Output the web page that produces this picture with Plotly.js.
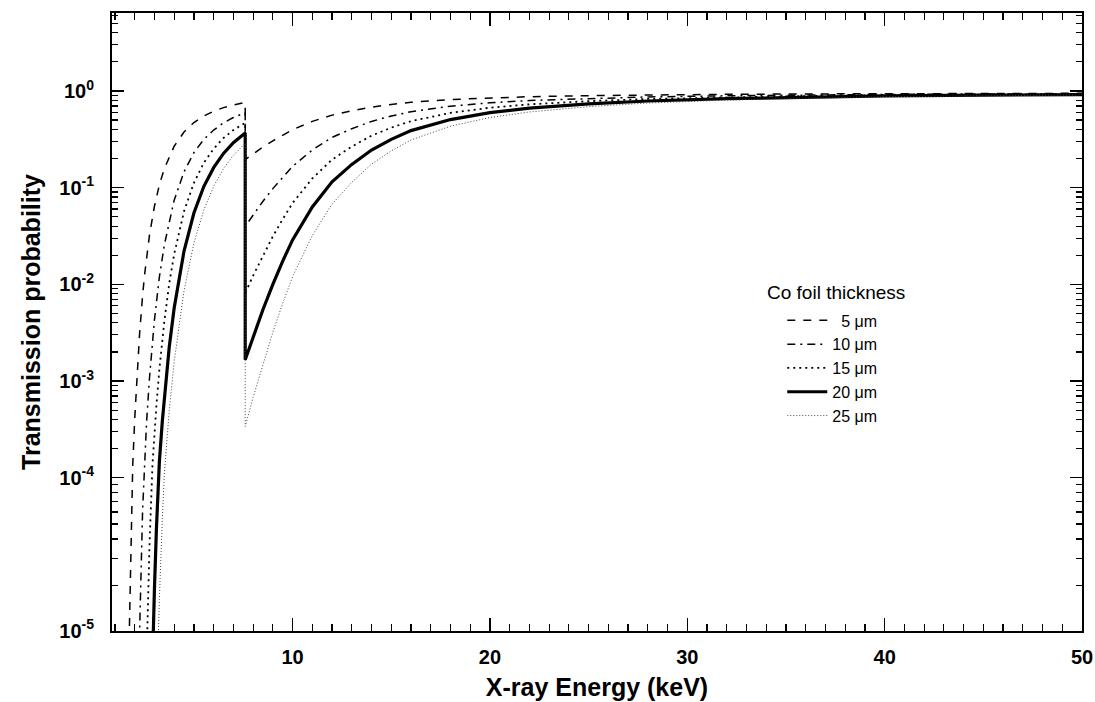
<!DOCTYPE html>
<html>
<head>
<meta charset="utf-8">
<script src="https://cdn.plot.ly/plotly-3.0.1.min.js"></script>
<style>html,body{margin:0;padding:0;background:#fff;}#chart{width:1095px;height:702px;}</style>
</head>
<body>
<div id="chart"></div>
<script>
// Energies (keV) and transmission values
// Below the Co K-edge (low-energy branch)
const e5Low  = [1.7,1.8,1.9,2.0,2.1,2.25,2.4,2.5,2.75,3.0,3.25,3.5,4.0,4.5,5.0,5.5,6.0,6.5,7.0,7.6];
const t5Low  = [1.37e-6,1.89e-5,1.33e-4,4.03e-4,1.02e-3,3.13e-3,7.67e-3,0.01245,0.0324,0.0642,0.107,0.157,0.268,0.376,0.471,0.551,0.617,0.672,0.716,0.759];
const e10Low = [2.1,2.2,2.25,2.4,2.5,2.6,2.75,2.9,3.0,3.25,3.5,4.0,4.5,5.0,5.5,6.0,6.5,7.0,7.6];
const t10Low = [7.4e-8,9.0e-7,2.61e-6,4.55e-5,1.60e-4,3.72e-4,1.08e-3,2.60e-3,4.27e-3,0.0119,0.0254,0.0741,0.146,0.230,0.315,0.394,0.468,0.531,0.596];
const e15Low = [2.5,2.6,2.75,2.9,3.0,3.1,3.25,3.4,3.5,3.75,4.0,4.5,5.0,5.5,6.0,6.5,7.0,7.6];
const t15Low = [2.07e-7,1.55e-6,2.0e-5,1.35e-4,2.83e-4,5.56e-4,1.32e-3,2.72e-3,4.12e-3,0.0102,0.0205,0.0569,0.112,0.180,0.252,0.326,0.394,0.468];
const e20Low = [2.8,2.9,3.0,3.1,3.25,3.4,3.5,3.75,4.0,4.5,5.0,5.5,6.0,6.5,7.0,7.6];
const t20Low = [2.0e-7,1.45e-6,7.0e-6,2.93e-5,1.46e-4,3.85e-4,6.68e-4,2.24e-3,5.69e-3,0.0221,0.0546,0.1026,0.161,0.226,0.292,0.367];
const e25Low = [3.0,3.1,3.25,3.4,3.5,3.75,4.0,4.5,5.0,5.5,6.0,6.5,7.0,7.6];
const t25Low = [9.3e-8,5.58e-7,5.52e-6,3.78e-5,1.08e-4,4.93e-4,1.58e-3,8.61e-3,0.0266,0.0586,0.1029,0.1576,0.216,0.288];

// Above the Co K-edge (high-energy branch)
const eHigh   = [7.6,8,8.5,9,9.5,10,11,12,13,14,15,16,18,20,22,25,28,32,36,40,45,50];
const t5High  = [0.195,0.224,0.263,0.305,0.351,0.398,0.484,0.562,0.624,0.680,0.724,0.763,0.815,0.849,0.872,0.894,0.910,0.923,0.931,0.938,0.942,0.945];
const t10High = [0.0398,0.0525,0.0724,0.0977,0.129,0.166,0.245,0.331,0.407,0.484,0.550,0.610,0.695,0.755,0.796,0.838,0.867,0.891,0.908,0.920,0.929,0.935];
const t15High = [8.13e-3,0.0123,0.01995,0.0313,0.0473,0.0692,0.1245,0.195,0.266,0.345,0.417,0.487,0.593,0.671,0.727,0.784,0.826,0.861,0.885,0.904,0.916,0.926];
const t20High = [1.66e-3,2.88e-3,5.50e-3,0.0100,0.0174,0.0288,0.0631,0.1148,0.174,0.245,0.316,0.389,0.506,0.597,0.664,0.735,0.787,0.832,0.863,0.887,0.904,0.916];
const t25High = [3.39e-4,6.76e-4,1.51e-3,3.20e-3,6.38e-3,0.0120,0.0320,0.0676,0.1135,0.1748,0.240,0.311,0.432,0.531,0.606,0.688,0.750,0.804,0.841,0.871,0.891,0.907];

const seriesNames = ['\u00a0\u00a05 \u03bcm','10 \u03bcm','15 \u03bcm','20 \u03bcm','25 \u03bcm'];

// Axis tick labels
const xTickVals = [10,20,30,40,50];
const xTickText = ['<b>10</b>','<b>20</b>','<b>30</b>','<b>40</b>','<b>50</b>'];
const xMidTicks = [5,15,25,35,45];
const yTickVals = [1,0.1,0.01,1e-3,1e-4,2.62e-6];
const yTickText = ['<b>10<sup>0</sup></b>','<b>10<sup>-1</sup></b>','<b>10<sup>-2</sup></b>','<b>10<sup>-3</sup></b>','<b>10<sup>-4</sup></b>','<b>10<sup>-5</sup></b>'];

function minorY(){
  const v=[];
  for (const d of [1e-4,1e-3,1e-2,1e-1,1]) for (let k=2;k<=9;k++){ const m=k*d; if(m<6.3) v.push(m); }
  // compressed bottom decade of the original drawing
  v.push(8.455e-5,7.01e-5,5.67e-5,4.43e-5,3.32e-5,2.33e-5,1.47e-5,7.71e-6);
  return v;
}

const styles = [
  {dash:'8px,8px', width:1.5, color:'#000'},
  {dash:'8px,5px,2px,5px', width:1.5, color:'#000'},
  {dash:'2px,4px', width:1.8, color:'#000'},
  {dash:'solid', width:3.2, color:'#000'},
  {dash:'1px,2px', width:1, color:'#444'}
];
const lows = [[e5Low,t5Low],[e10Low,t10Low],[e15Low,t15Low],[e20Low,t20Low],[e25Low,t25Low]];
const highs = [t5High,t10High,t15High,t20High,t25High];

const traces = lows.map((lw,i)=>({
  x: lw[0].concat(eHigh),
  y: lw[1].concat(highs[i]),
  type:'scatter', mode:'lines', name: seriesNames[i],
  line: Object.assign({}, styles[i]),
  hoverinfo:'skip'
}));

const font = 'Liberation Sans, Arial, Helvetica, sans-serif';
const layout = {
  width:1095, height:702,
  margin:{l:112, r:13, t:13, b:71},
  paper_bgcolor:'#fff', plot_bgcolor:'#fff',
  font:{family:font, color:'#000'},
  showlegend:true,
  legend:{x:0.691, y:0.530, xanchor:'left', yanchor:'top', bgcolor:'rgba(0,0,0,0)',
          font:{size:16, family:font, color:'#000'}, itemwidth:40, tracegroupgap:0},
  xaxis:{
    range:[0.85,50], showgrid:false, zeroline:false,
    showline:true, linecolor:'#000', linewidth:2, mirror:'ticks',
    ticks:'inside', ticklen:13, tickwidth:1.5, tickcolor:'#000',
    tickmode:'array', tickvals:xTickVals, ticktext:xTickText,
    tickfont:{size:20, family:font, color:'#000'}, ticklabelstandoff:7,
    minor:{dtick:1, tick0:0, ticks:'inside', ticklen:7, tickwidth:1.2, tickcolor:'#000', showgrid:false},
    title:{text:'<b>X-ray Energy (keV)</b>', font:{size:25, family:font}, standoff:11}
  },
  xaxis2:{
    overlaying:'x', anchor:'y', side:'bottom', range:[0.85,50],
    showgrid:false, zeroline:false, showline:true, linecolor:'#000', linewidth:2, mirror:'ticks',
    ticks:'inside', ticklen:10, tickwidth:1.3, tickcolor:'#000',
    tickmode:'array', tickvals:xMidTicks, showticklabels:false
  },
  yaxis:{
    type:'log', range:[-5.585,0.806], showgrid:false, zeroline:false,
    showline:true, linecolor:'#000', linewidth:2, mirror:'ticks',
    ticks:'inside', ticklen:12, tickwidth:1.5, tickcolor:'#000',
    tickmode:'array', tickvals:yTickVals, ticktext:yTickText,
    tickfont:{size:20, family:font, color:'#000'}, ticklabelstandoff:12,
    minor:{tickmode:'array', tickvals:minorY(), ticks:'inside', ticklen:6, tickwidth:1.2, tickcolor:'#000', showgrid:false},
    title:{text:'<b>Transmission probability</b>', font:{size:25, family:font}, standoff:12}
  },
  annotations:[{
    xref:'paper', yref:'paper', x:0.673, y:0.5485, xanchor:'left', yanchor:'middle',
    text:'Co foil thickness', showarrow:false, font:{size:19, family:font, color:'#000'}
  }]
};

Plotly.newPlot('chart', traces, layout, {displayModeBar:false, staticPlot:true});
</script>
</body>
</html>
